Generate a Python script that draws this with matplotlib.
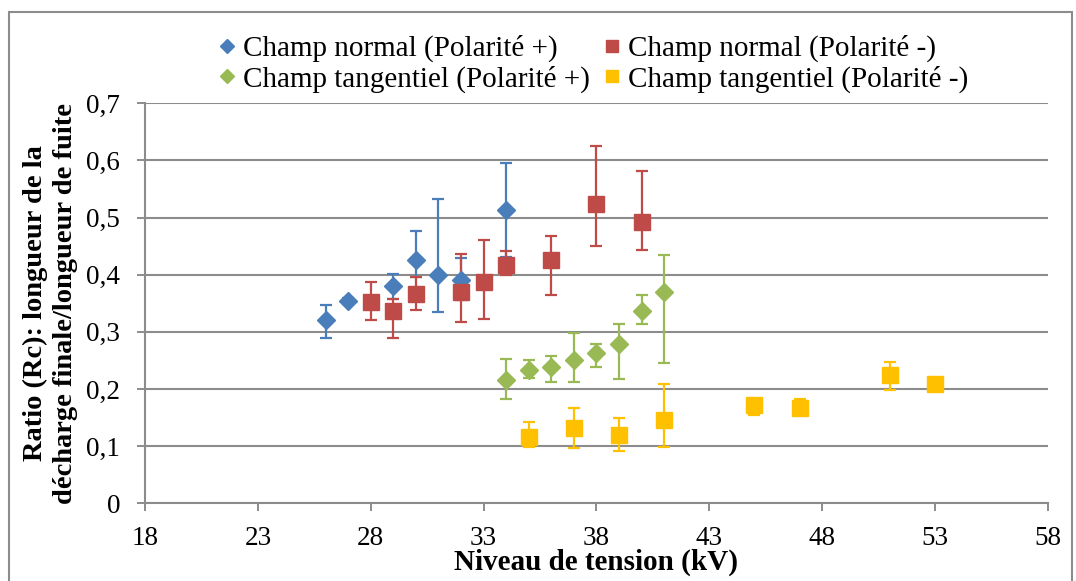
import matplotlib
matplotlib.use("Agg")
import matplotlib.pyplot as plt
from matplotlib.patches import Rectangle
from matplotlib.ticker import FuncFormatter

# Data
x_np = [26, 27, 29, 30, 31, 32, 34]
y_np = [0.321, 0.354, 0.381, 0.426, 0.400, 0.391, 0.513]
hi_np = [0.347, 0.359, 0.402, 0.476, 0.533, 0.430, 0.595]
lo_np = [0.290, 0.349, 0.358, 0.396, 0.335, 0.356, 0.431]

x_nm = [28, 29, 30, 32, 33, 34, 36, 38, 40]
y_nm = [0.353, 0.337, 0.367, 0.370, 0.387, 0.417, 0.426, 0.524, 0.493]
hi_nm = [0.387, 0.358, 0.396, 0.437, 0.461, 0.441, 0.468, 0.626, 0.581]
lo_nm = [0.321, 0.290, 0.339, 0.318, 0.323, 0.399, 0.365, 0.451, 0.443]

x_tp = [34, 35, 36, 37, 38, 39, 40, 41]
y_tp = [0.215, 0.234, 0.239, 0.251, 0.263, 0.279, 0.336, 0.370]
hi_tp = [0.252, 0.250, 0.257, 0.298, 0.279, 0.313, 0.365, 0.434]
lo_tp = [0.182, 0.219, 0.213, 0.213, 0.239, 0.217, 0.314, 0.245]

x_tm = [35, 37, 39, 41, 45, 47, 51, 53]
y_tm = [0.116, 0.132, 0.120, 0.146, 0.172, 0.166, 0.224, 0.209]
hi_tm = [0.142, 0.166, 0.149, 0.209, 0.178, 0.182, 0.247, 0.217]
lo_tm = [0.098, 0.097, 0.092, 0.098, 0.155, 0.159, 0.199, 0.201]

labels = ["Champ normal (Polarité +)", "Champ normal (Polarité -)",
          "Champ tangentiel (Polarité +)", "Champ tangentiel (Polarité -)"]
x_ticks = [18, 23, 28, 33, 38, 43, 48, 53, 58]
y_ticks = [0, 0.1, 0.2, 0.3, 0.4, 0.5, 0.6, 0.7]

plt.rcParams['font.family'] = ['Liberation Serif', 'DejaVu Serif']

fig = plt.figure(figsize=(10.76, 5.81), dpi=100)
ax = fig.add_axes([0.1348, 0.1337, 0.839, 0.6885])

series = [
    (x_np, y_np, hi_np, lo_np, '#4A7EBB', 'D', 9),
    (x_nm, y_nm, hi_nm, lo_nm, '#BE4B48', 's', 11.5),
    (x_tp, y_tp, hi_tp, lo_tp, '#98B954', 'D', 9),
    (x_tm, y_tm, hi_tm, lo_tm, '#FFC000', 's', 11.5),
]
handles = []
for (xs, ys, hi, lo, c, m, ms), lab in zip(series, labels):
    yerr = [[y - l for y, l in zip(ys, lo)], [h - y for y, h in zip(ys, hi)]]
    ax.errorbar(xs, ys, yerr=yerr, fmt='none', ecolor=c, elinewidth=1.6,
                capsize=4.5, capthick=1.6, zorder=3)
    h, = ax.plot(xs, ys, linestyle='none', marker=m, markersize=ms,
                 color=c, markeredgecolor=c, zorder=4, label=lab)
    handles.append(h)

ax.set_xlim(18, 58)
ax.set_ylim(0, 0.7)
ax.set_xticks(x_ticks)
ax.set_yticks(y_ticks)
ax.yaxis.set_major_formatter(FuncFormatter(
    lambda v, p: '0' if abs(v) < 1e-9 else ('%.1f' % v).replace('.', ',')))
ax.grid(axis='y', color='#8C8C8C', linewidth=1.5)
ax.set_axisbelow(True)
for s in ['top', 'right']:
    ax.spines[s].set_visible(False)
for s in ['left', 'bottom']:
    ax.spines[s].set_color('#8C8C8C')
    ax.spines[s].set_linewidth(1.5)
ax.tick_params(axis='both', colors='#8C8C8C', labelcolor='black',
               labelsize=19.5, length=6, width=1.4, direction='out')
ax.tick_params(axis='x', pad=10)
ax.tick_params(axis='y', pad=12)

ax.set_xlabel("Niveau de tension (kV)", fontsize=21, fontweight='bold', labelpad=-1)
ax.set_ylabel("Ratio (Rc): longueur de la\ndécharge finale/longueur de fuite",
              fontsize=20.5, fontweight='bold', labelpad=6, linespacing=1.25)

fig.legend(handles=[handles[0], handles[2], handles[1], handles[3]],
           labels=[labels[0], labels[2], labels[1], labels[3]],
           ncol=2, loc='upper center', bbox_to_anchor=(0.552, 0.985),
           frameon=False, fontsize=21, handlelength=0.5, handletextpad=0.3,
           columnspacing=0.5, labelspacing=0.1, markerscale=0.75)

fig.patches.append(Rectangle((0.008, -0.01), 0.988, 0.99, transform=fig.transFigure,
                             fill=False, edgecolor='#8C8C8C', linewidth=1.5))

fig.savefig('out.png', dpi=100)
